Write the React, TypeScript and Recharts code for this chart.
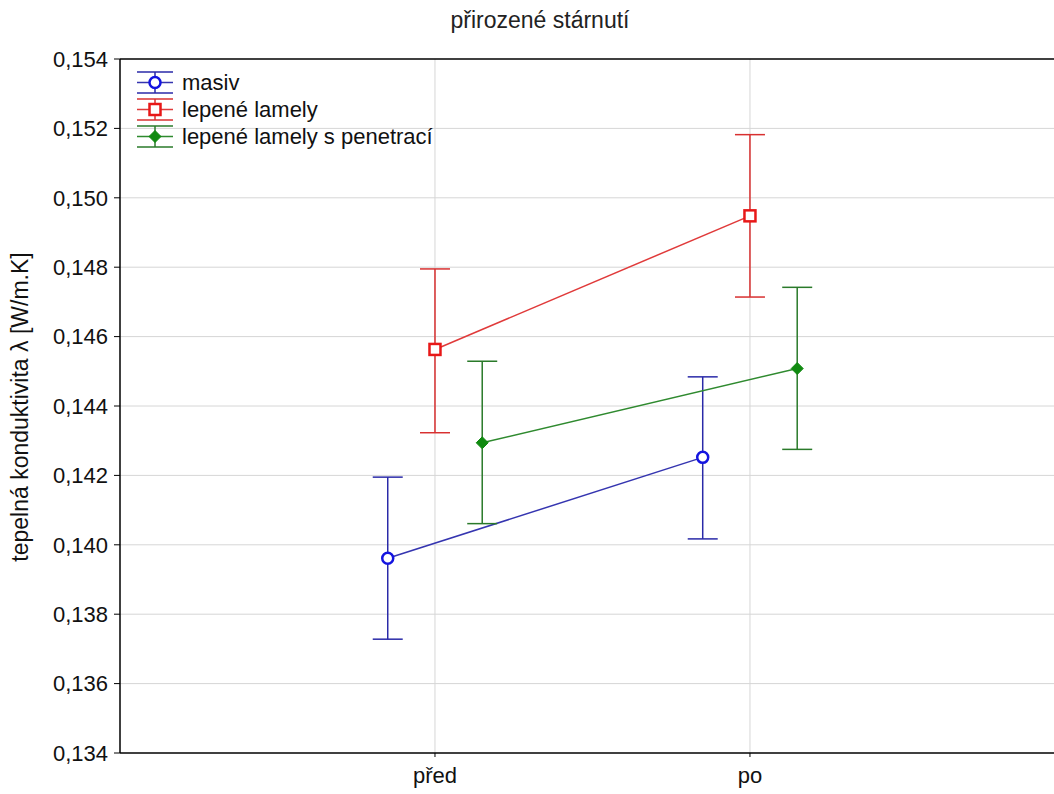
import React from 'react'
import { ComposedChart, Line, ErrorBar, XAxis, YAxis, ReferenceLine } from 'recharts'

// values (thermal conductivity, W/m.K)
const categories = ['před', 'po']
const seriesNames = ['masiv', 'lepené lamely', 'lepené lamely s penetrací']

const masivMean = [0.13961, 0.14252]
const masivLow = [0.13728, 0.14017]
const masivHigh = [0.14195, 0.14484]

const lamelyMean = [0.14563, 0.14948]
const lamelyLow = [0.14323, 0.14714]
const lamelyHigh = [0.14795, 0.15182]

const penetraceMean = [0.14294, 0.14508]
const penetraceLow = [0.14061, 0.14275]
const penetraceHigh = [0.14529, 0.14742]

const yTicks = [0.134, 0.136, 0.138, 0.14, 0.142, 0.144, 0.146, 0.148, 0.15, 0.152, 0.154]

const FONT = '"Liberation Sans", Arial, sans-serif'

const build = (mean: number[], low: number[], high: number[], offset: number) =>
  categories.map((c, i) => ({
    x: i + 1 + offset,
    y: mean[i],
    err: [mean[i] - low[i], high[i] - mean[i]],
  }))

const styles = [
  { line: '#3535b0', bar: '#2a2aa8', marker: '#1414e0', shape: 'circle', offset: -0.15 },
  { line: '#e03a3a', bar: '#d83030', marker: '#e81818', shape: 'square', offset: 0 },
  { line: '#2f8a2f', bar: '#2a7a2a', marker: '#108a10', shape: 'diamond', offset: 0.15 },
]

const seriesData = [
  build(masivMean, masivLow, masivHigh, styles[0].offset),
  build(lamelyMean, lamelyLow, lamelyHigh, styles[1].offset),
  build(penetraceMean, penetraceLow, penetraceHigh, styles[2].offset),
]

function Marker({ cx, cy, shape, color }: { cx: number; cy: number; shape: string; color: string }) {
  if (shape === 'circle') {
    return <circle cx={cx} cy={cy} r={5.5} fill="#fff" stroke={color} strokeWidth={2.5} />
  }
  if (shape === 'square') {
    return <rect x={cx - 5.5} y={cy - 5.5} width={11} height={11} fill="#fff" stroke={color} strokeWidth={2.5} />
  }
  return (
    <polygon
      points={`${cx},${cy - 6} ${cx + 6},${cy} ${cx},${cy + 6} ${cx - 6},${cy}`}
      fill={color}
      stroke={color}
      strokeWidth={1}
    />
  )
}

function LegendBox() {
  return (
    <div style={{ position: 'absolute', left: 135, top: 69, fontFamily: FONT, fontSize: 22, color: '#111' }}>
      {seriesNames.map((name, i) => {
        const s = styles[i]
        return (
          <div key={name} style={{ display: 'flex', alignItems: 'center', height: 27 }}>
            <svg width={42} height={27} style={{ overflow: 'visible' }}>
              <line x1={2} y1={3} x2={38} y2={3} stroke={s.bar} strokeWidth={1.5} />
              <line x1={2} y1={24} x2={38} y2={24} stroke={s.bar} strokeWidth={1.5} />
              <line x1={20} y1={3} x2={20} y2={24} stroke={s.bar} strokeWidth={1.5} />
              <line x1={2} y1={13.5} x2={38} y2={13.5} stroke={s.line} strokeWidth={1.5} />
              <Marker cx={20} cy={13.5} shape={s.shape} color={s.marker} />
            </svg>
            <span style={{ marginLeft: 5 }}>{name}</span>
          </div>
        )
      })}
    </div>
  )
}

export default function App() {
  return (
    <div
      style={{
        position: 'absolute', left: 0, top: 0, width: 1054, height: 794,
        overflow: 'hidden', background: '#fff',
      }}
    >
      {/* plot runs past the right edge, as in the cropped original */}
      <ComposedChart width={1064} height={794} margin={{ top: 59, right: 0, left: 0, bottom: 0 }}>
        <XAxis
          type="number"
          dataKey="x"
          domain={[0, 2.997]}
          ticks={[1, 2]}
          allowDataOverflow
          tickFormatter={(v: number) => categories[Math.round(v) - 1] ?? ''}
          tick={{ fontSize: 22, fill: '#111', fontFamily: FONT }}
          tickLine={{ stroke: '#000' }}
          tickSize={4}
          tickMargin={10}
          axisLine={{ stroke: '#000', strokeWidth: 1.5 }}
          height={41}
        />
        <YAxis
          type="number"
          domain={[0.134, 0.154]}
          ticks={yTicks}
          allowDataOverflow
          tickFormatter={(v: number) => v.toFixed(3).replace('.', ',')}
          tick={{ fontSize: 22, fill: '#111', fontFamily: FONT }}
          tickLine={{ stroke: '#000' }}
          tickSize={6}
          tickMargin={6}
          axisLine={{ stroke: '#000', strokeWidth: 1.5 }}
          width={120}
        />
        {yTicks.slice(1, -1).map((y) => (
          <ReferenceLine key={y} y={y} stroke="#d6d6d6" strokeWidth={1} />
        ))}
        {[1, 2].map((x) => (
          <ReferenceLine key={x} x={x} stroke="#d6d6d6" strokeWidth={1} />
        ))}
        <ReferenceLine y={0.154} stroke="#000" strokeWidth={1.5} />
        {seriesData.map((data, i) => (
          <Line
            key={seriesNames[i]}
            name={seriesNames[i]}
            data={data}
            dataKey="y"
            type="linear"
            stroke={styles[i].line}
            strokeWidth={1.5}
            isAnimationActive={false}
            dot={(p: any) => (
              <Marker key={`${i}-${p.index}`} cx={p.cx} cy={p.cy} shape={styles[i].shape} color={styles[i].marker} />
            )}
            activeDot={false}
          >
            <ErrorBar dataKey="err" direction="y" width={15} stroke={styles[i].bar} strokeWidth={1.5} isAnimationActive={false} />
          </Line>
        ))}
      </ComposedChart>
      <div
        style={{
          position: 'absolute', top: 7, left: 0, width: 1080, textAlign: 'center',
          fontFamily: FONT, fontSize: 23, color: '#222',
        }}
      >
        přirozené stárnutí
      </div>
      <div
        style={{
          position: 'absolute', left: 20, top: 407, transform: 'translate(-50%, -50%) rotate(-90deg)',
          whiteSpace: 'nowrap', fontFamily: FONT, fontSize: 23, color: '#111',
        }}
      >
        tepelná konduktivita λ [W/m.K]
      </div>
      <LegendBox />
    </div>
  )
}
